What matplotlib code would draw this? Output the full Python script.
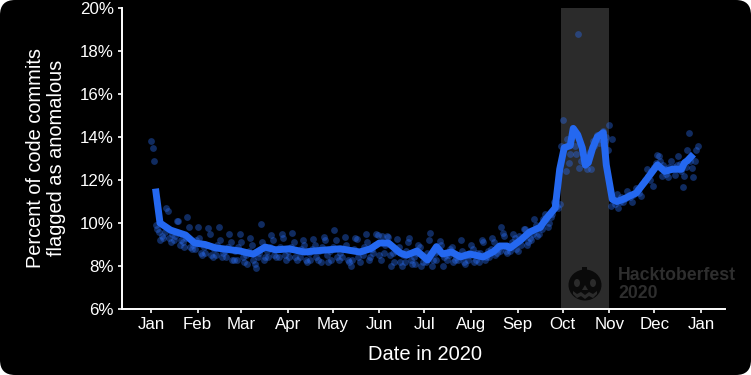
import matplotlib
matplotlib.use('Agg')
import matplotlib.pyplot as plt
from matplotlib.patches import Ellipse, Rectangle, Polygon, FancyBboxPatch
from matplotlib.transforms import IdentityTransform

plt.rcParams['font.family'] = ['Liberation Sans', 'DejaVu Sans']

month_days = [0, 31, 60, 91, 121, 152, 182, 213, 244, 274, 305, 335, 366]
month_labels = ['Jan', 'Feb', 'Mar', 'Apr', 'May', 'Jun', 'Jul', 'Aug', 'Sep', 'Oct', 'Nov', 'Dec', 'Jan']
pct_ticks = [6, 8, 10, 12, 14, 16, 18, 20]

# smoothed line
line_days = [3, 6, 13, 19, 23, 29, 36, 43, 49, 59, 68, 76, 83, 92, 102, 112, 126, 139, 146, 152, 158, 166,
             170, 177, 184, 190, 194, 200, 206, 212, 221, 228, 232, 237, 239, 246, 252, 259, 263, 269, 272,
             275, 279, 281, 284, 287, 289, 291, 294, 297, 301, 303, 307, 310, 314, 323, 329, 337, 342, 347,
             353, 355, 357, 361]
line_vals = [11.6, 10.0, 9.67, 9.53, 9.44, 9.07, 9.0, 8.84, 8.79, 8.7, 8.55, 8.88, 8.75, 8.8, 8.65, 8.72, 8.8,
             8.65, 8.8, 9.07, 9.07, 8.6, 8.5, 8.7, 8.28, 8.9, 8.56, 8.65, 8.42, 8.56, 8.42, 8.67, 8.93, 8.93,
             8.84, 9.2, 9.58, 9.8, 10.2, 10.7, 12.5, 13.5, 13.6, 14.4, 14.1, 13.5, 12.7, 12.8, 13.5, 14.0,
             14.2, 12.7, 11.1, 11.0, 11.1, 11.4, 11.95, 12.7, 12.4, 12.5, 12.5, 12.8, 12.9, 13.2]

# daily points up to end of Sep, one row per week (weekend is 4th and 5th)
early_vals = [
    13.8, 13.5, 12.9, 9.9, 9.7, 9.6, 9.2,
    9.4, 9.3, 9.6, 10.7, 10.55, 9.3, 9.1,
    9.5, 9.2, 9.4, 10.1, 10.1, 9.0, 9.2,
    9.1, 8.9, 9.3, 10.3, 9.8, 8.9, 8.8,
    9.0, 8.8, 9.2, 9.8, 9.3, 8.6, 8.5,
    8.9, 8.6, 9.0, 9.75, 9.5, 8.5, 8.4,
    8.8, 8.5, 9.0, 9.8, 9.2, 8.4, 8.6,
    8.7, 8.4, 8.9, 9.5, 9.1, 8.3, 8.3,
    8.7, 8.3, 8.9, 9.5, 9.1, 8.4, 8.2,
    8.5, 8.1, 8.7, 9.3, 9.0, 8.3, 8.1,
    7.9, 8.4, 8.6, 9.95, 9.1, 8.3, 8.4,
    8.7, 8.4, 8.9, 9.45, 9.2, 8.5, 8.4,
    8.8, 8.4, 8.9, 9.5, 9.3, 8.5, 8.3,
    8.7, 8.4, 8.9, 9.55, 9.1, 8.4, 8.3,
    8.7, 8.4, 8.8, 9.2, 9.0, 8.3, 8.2,
    8.6, 8.3, 8.8, 9.25, 9.0, 8.4, 8.3,
    8.7, 8.2, 8.9, 9.35, 9.2, 8.5, 8.2,
    8.7, 8.3, 8.9, 9.67, 9.2, 8.4, 8.3,
    8.6, 8.4, 8.8, 9.35, 9.0, 8.3, 8.2,
    8.0, 8.3, 8.8, 9.3, 9.25, 8.4, 8.2,
    8.7, 8.5, 8.9, 9.5, 9.1, 8.3, 8.4,
    8.8, 8.6, 9.0, 9.5, 9.45, 8.5, 8.3,
    9.4, 8.6, 9.0, 9.4, 9.35, 8.5, 8.0,
    8.6, 8.2, 8.7, 9.25, 8.9, 8.2, 8.0,
    8.5, 8.2, 8.7, 9.1, 9.3, 8.3, 8.1,
    8.4, 8.1, 8.6, 9.0, 8.9, 8.0, 8.2,
    8.4, 8.2, 8.6, 9.2, 9.55, 8.0, 8.3,
    8.6, 8.3, 8.7, 9.15, 9.0, 8.0, 8.4,
    8.5, 8.3, 8.5, 8.8, 8.9, 8.2, 8.3,
    8.4, 8.3, 8.5, 9.2, 8.7, 8.2, 8.1,
    8.5, 8.3, 8.5, 9.0, 8.8, 8.2, 8.3,
    8.6, 8.2, 8.6, 9.2, 9.1, 8.3, 8.4,
    8.7, 8.4, 8.8, 9.3, 9.1, 8.5, 8.6,
    8.8, 8.7, 9.8, 9.55, 9.4, 8.7, 8.6,
    8.9, 8.7, 9.1, 9.5, 9.3, 8.8, 8.7,
    9.4, 9.0, 9.3, 9.72, 9.7, 9.0, 9.1,
    9.3, 9.2, 9.5, 10.2, 9.9, 9.4, 9.5,
    9.8, 9.7, 10.2, 10.4, 10.2, 9.8, 10.0,
    10.3, 10.4, 11.0, 10.9, 10.8, 10.7, 10.9,
]
early_days = list(range(len(early_vals)))

# Oct to end of Dec, read one by one
late_days = [273, 274, 275, 276, 277, 278, 279, 280, 281, 282, 283, 284, 285, 286, 287, 288, 289, 290, 291, 292,
             293, 294, 295, 296, 297, 298, 299, 300, 301, 302, 303, 304, 305, 306, 307, 308, 309, 310, 311, 312,
             313, 314, 315, 316, 317, 318, 319, 320, 321, 322, 323, 324, 325, 326, 327, 328, 329, 330, 331, 332,
             333, 334, 335, 336, 337, 338, 339, 340, 341, 342, 343, 344, 345, 346, 347, 348, 349, 350, 351, 352,
             353, 354, 355, 356, 357, 358, 359, 360, 361, 362, 363, 364]
late_vals = [13.6, 14.8, 13.5, 12.4, 13.9, 12.8, 13.2, 14.0, 14.2, 13.6, 13.2, 18.8, 12.55, 12.9, 13.4, 13.0, 12.7,
             12.5, 12.9, 13.3, 12.5, 13.8, 13.6, 13.9, 14.1, 13.7, 13.9, 14.2, 14.3, 13.8, 14.0, 13.4, 14.55, 10.8,
             13.9, 11.07, 10.9, 11.35, 10.7, 11.0, 11.2, 11.0, 11.1, 11.15, 11.5, 11.3, 11.2, 11.0, 11.3, 11.4,
             11.65, 11.6, 11.4, 11.25, 11.8, 11.9, 12.0, 12.5, 12.2, 12.0, 12.4, 11.7, 12.6, 12.8, 13.15, 13.1,
             12.9, 12.2, 12.7, 12.5, 12.3, 12.15, 12.6, 12.9, 12.5, 12.6, 12.25, 12.7, 13.1, 12.75, 12.4, 11.67,
             12.2, 12.6, 13.4, 14.2, 12.9, 12.55, 12.15, 12.9, 13.4, 13.6]

fig = plt.figure(figsize=(7.51, 3.75), dpi=100, facecolor='white')
fig.add_artist(FancyBboxPatch((0, 0), 751, 375, boxstyle='round,pad=0,rounding_size=15', fc='black', ec='none',
                              transform=IdentityTransform(), zorder=-1))
ax = fig.add_axes([122 / 751, 1 - 309 / 375, (725 - 122) / 751, (309 - 8) / 375], facecolor='black')

ax.axvspan(273, 305, color='#2b2b2b', lw=0, zorder=1)
ax.scatter(early_days + late_days, early_vals + late_vals, s=24, color='#2a6cf0', alpha=0.4, lw=0, zorder=2)
ax.plot(line_days, line_vals, color='#2468f0', lw=5, solid_joinstyle='round', solid_capstyle='butt', zorder=3)

ax.set_xlim(-19.3, 382)
ax.set_ylim(6, 20)
ax.set_xticks(month_days)
ax.set_xticklabels(month_labels)
ax.set_yticks(pct_ticks)
ax.set_yticklabels([f'{p}%' for p in pct_ticks])
ax.tick_params(colors='white', labelcolor='white', labelsize=12.2, length=3, width=1.2, pad=3)
for side in ['top', 'right']:
    ax.spines[side].set_visible(False)
for side in ['left', 'bottom']:
    ax.spines[side].set_color('white')
    ax.spines[side].set_linewidth(1.4)

fig.text(425 / 751, 1 - 355 / 375, 'Date in 2020', color='white', fontsize=14.5, ha='center', va='center')
fig.text(46 / 751, 1 - 158 / 375, 'Percent of code commits\nflagged as anomalous', color='white', fontsize=14.4,
         rotation=90, ha='center', va='center', linespacing=1.15)


# pumpkin logo, in figure pixels
def fx(x, y):
    return x / 751, 1 - y / 375


dark = '#0a0a0a'
grey = '#2b2b2b'
fig.add_artist(Rectangle(fx(582, 272), 5 / 751, 5 / 375, color=dark, lw=0))
fig.add_artist(Ellipse(fx(585, 285), 33 / 751, 31 / 375, color=dark, lw=0))
for cx in [577, 593]:
    fig.add_artist(Ellipse(fx(cx, 283), 6 / 751, 8 / 375, color=grey, lw=0))
fig.add_artist(Polygon([fx(585, 285), fx(582, 290), fx(588, 290)], color=grey, lw=0))
fig.add_artist(Polygon([fx(x, y) for x, y in [(573, 291), (577, 294), (581, 292), (585, 295), (589, 292), (593, 294),
                                             (597, 291), (597, 294), (593, 298), (589, 296), (585, 299), (581, 296),
                                             (577, 298), (573, 294)]], color=grey, lw=0))

fig.text(618 / 751, 1 - 276 / 375, 'Hacktoberfest', color='#2e2e2e', fontsize=12.7, fontweight='bold', va='center')
fig.text(618 / 751, 1 - 293 / 375, '2020', color='#2e2e2e', fontsize=12.7, fontweight='bold', va='center')

fig.savefig('out.png', dpi=100, facecolor='white')
